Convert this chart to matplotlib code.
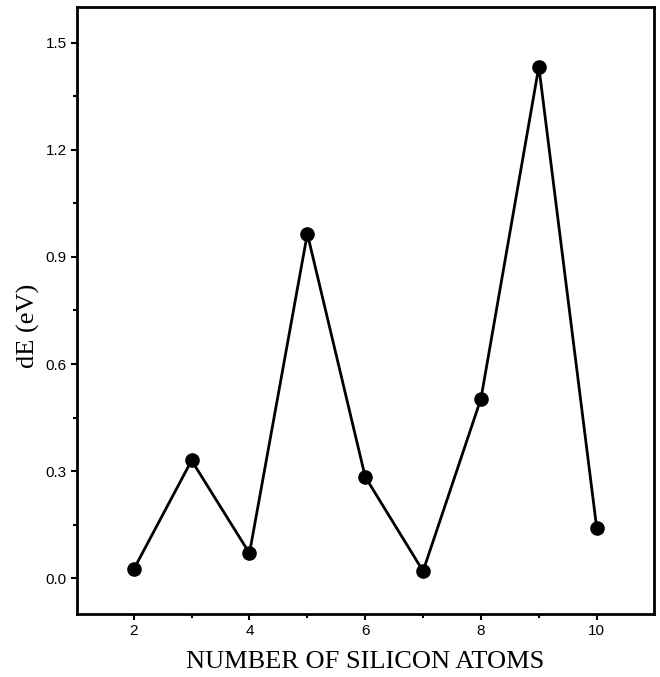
import matplotlib
matplotlib.use("Agg")
import matplotlib.pyplot as plt
from matplotlib.ticker import MultipleLocator

# number of Si atoms vs energy difference
n_atoms = [2, 3, 4, 5, 6, 7, 8, 9, 10]
dE = [0.025, 0.33, 0.07, 0.965, 0.284, 0.02, 0.503, 1.433, 0.141]

fig = plt.figure(figsize=(6.6, 6.77), dpi=100)
ax = fig.add_axes([0.1167, 0.0931, 0.8742, 0.8966])

ax.plot(n_atoms, dE, color='black', linewidth=2, marker='o', markersize=9.5)

ax.set_xlim(1.02, 10.99)
ax.set_ylim(-0.1, 1.6)
ax.xaxis.set_major_locator(MultipleLocator(2))
ax.xaxis.set_minor_locator(MultipleLocator(1))
ax.yaxis.set_major_locator(MultipleLocator(0.3))
ax.yaxis.set_minor_locator(MultipleLocator(0.15))
ax.yaxis.set_major_formatter(plt.FormatStrFormatter('%.1f'))

for s in ax.spines.values():
    s.set_linewidth(2)
ax.tick_params(which='both', direction='out', width=1.5)
ax.tick_params(which='major', length=4, labelsize=11)
ax.tick_params(which='minor', length=3)
for lbl in ax.get_xticklabels() + ax.get_yticklabels():
    lbl.set_family('Liberation Sans')

ax.set_xlabel("NUMBER OF SILICON ATOMS", family='Liberation Serif', fontsize=19)
ax.set_ylabel("dE (eV)", family='Liberation Serif', fontsize=19)
ax.xaxis.set_label_coords(0.5, -0.061)
ax.yaxis.set_label_coords(-0.065, 0.474)

fig.savefig("out.png", dpi=100)
